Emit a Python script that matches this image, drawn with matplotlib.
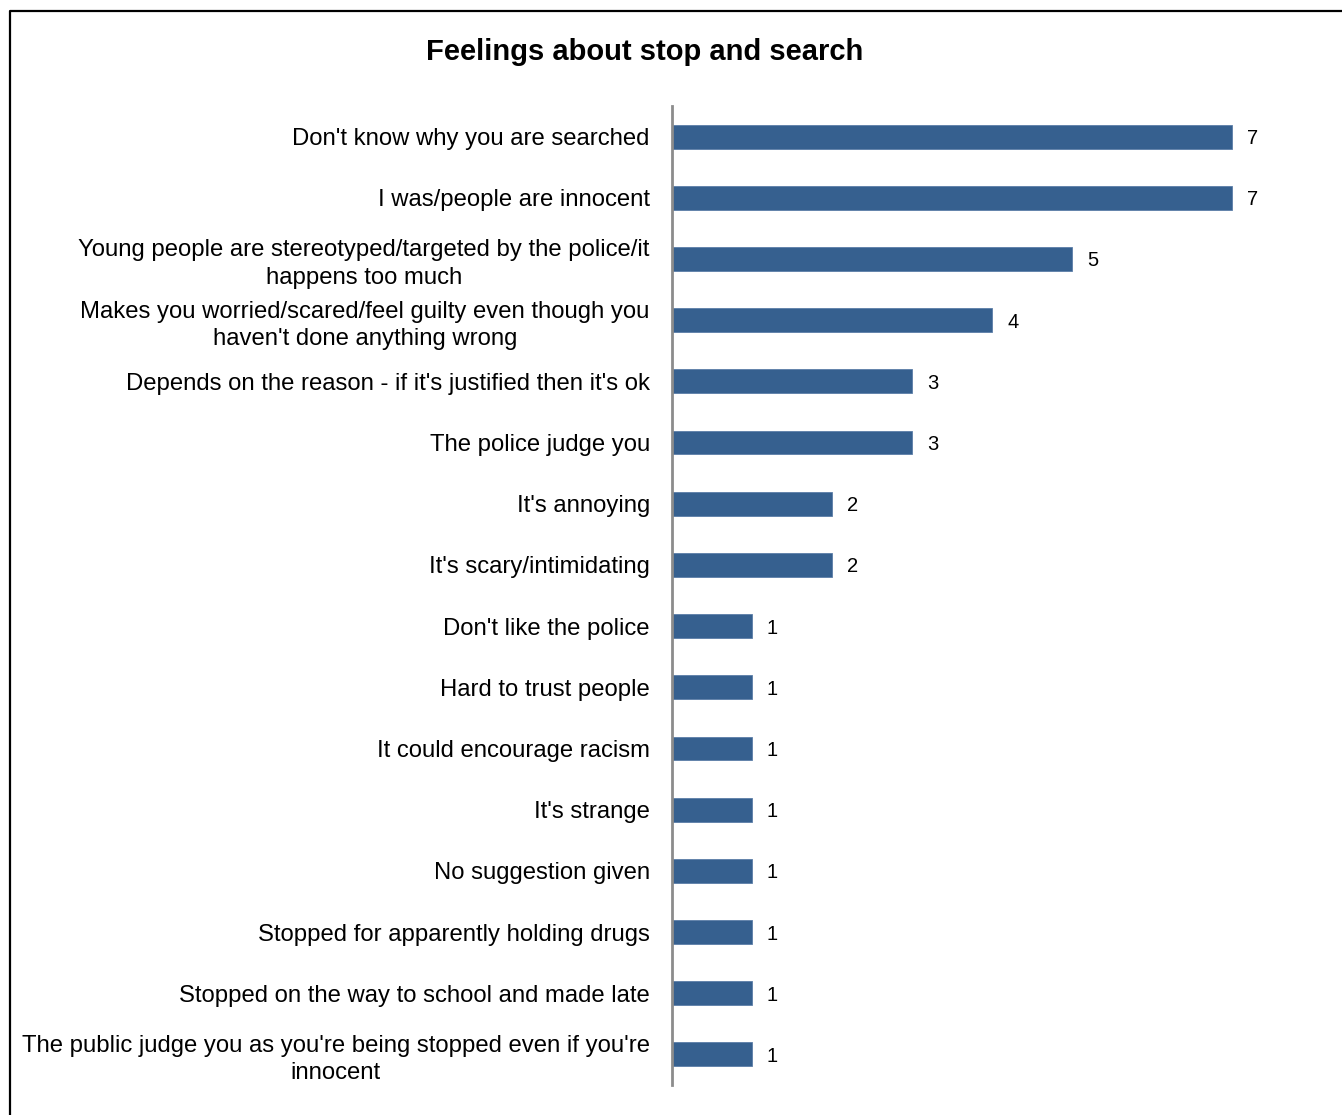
import matplotlib
matplotlib.use("Agg")
import matplotlib.pyplot as plt
from matplotlib.lines import Line2D

plt.rcParams['font.family'] = ['Liberation Sans', 'DejaVu Sans']

categories = [
    "Don't know why you are searched",
    "I was/people are innocent",
    "Young people are stereotyped/targeted by the police/it\nhappens too much",
    "Makes you worried/scared/feel guilty even though you\nhaven't done anything wrong",
    "Depends on the reason - if it's justified then it's ok",
    "The police judge you",
    "It's annoying",
    "It's scary/intimidating",
    "Don't like the police",
    "Hard to trust people",
    "It could encourage racism",
    "It's strange",
    "No suggestion given",
    "Stopped for apparently holding drugs",
    "Stopped on the way to school and made late",
    "The public judge you as you're being stopped even if you're\ninnocent",
]
counts = [7, 7, 5, 4, 3, 3, 2, 2, 1, 1, 1, 1, 1, 1, 1, 1]

W, H = 1342, 1115
fig = plt.figure(figsize=(W / 100, H / 100), dpi=100)

# axes placed to match the pixel layout of the original
ax = fig.add_axes([672 / W, 1 - 1085 / H, 640 / W, (1085 - 106) / H])
ypos = list(range(len(categories)))
ax.barh(ypos, counts, height=0.39, color='#36608F', edgecolor='#5B7DA8', linewidth=0.6)
ax.set_ylim(len(categories) - 0.5, -0.5)
ax.set_xlim(0, 8)
ax.set_yticks(ypos)
ax.set_yticklabels(categories, fontsize=17.2, multialignment='center', linespacing=1.3)
ax.tick_params(axis='y', length=0, pad=16)
ax.set_xticks([])
for s in ['top', 'right', 'bottom']:
    ax.spines[s].set_visible(False)
ax.spines['left'].set_color('#8C8C8C')
ax.spines['left'].set_linewidth(2)

for y, v in zip(ypos, counts):
    ax.annotate(str(v), (v, y), xytext=(15, -2), textcoords='offset pixels',
                ha='left', va='center', fontsize=14.5)

fig.text(645 / W, 1 - 52 / H, "Feelings about stop and search", ha='center', va='center',
         fontsize=21, fontweight='bold')

# outer frame (left and top edges visible)
fig.add_artist(Line2D([9.5 / W, 9.5 / W, 1.0], [0.0, 1 - 10.5 / H, 1 - 10.5 / H],
                      transform=fig.transFigure, color='black', linewidth=1.6))

fig.savefig("out.png", dpi=100)
